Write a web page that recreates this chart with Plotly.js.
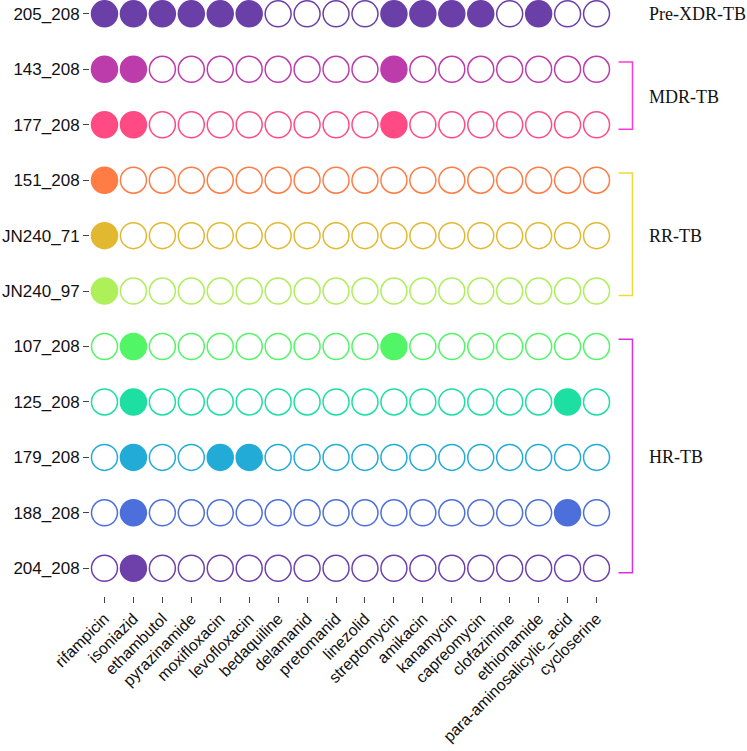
<!DOCTYPE html>
<html>
<head>
<meta charset="utf-8">
<script src="https://cdn.plot.ly/plotly-3.0.1.min.js"></script>
<style>html,body{margin:0;padding:0;background:#fff;}#chart{width:747px;height:751px;}</style>
</head>
<body>
<div id="chart"></div>
<script>
const drugs = ["rifampicin","isoniazid","ethambutol","pyrazinamide","moxifloxacin","levofloxacin","bedaquiline","delamanid","pretomanid","linezolid","streptomycin","amikacin","kanamycin","capreomycin","clofazimine","ethionamide","para-aminosalicylic_acid","cycloserine"];
const strains = ["205_208","143_208","177_208","151_208","JN240_71","JN240_97","107_208","125_208","179_208","188_208","204_208"];
const strainColors = ["#6b3fa8","#bd3cab","#ff4a84","#ff7c45","#e2b831","#aef05a","#52f566","#1ddfa2","#23abd8","#4c6fdc","#6e40aa"];
// 1 = resistant (filled), 0 = susceptible (open)
const r205_208  = [1,1,1,1,1,1,0,0,0,0,1,1,1,1,0,1,0,0];
const r143_208  = [1,1,0,0,0,0,0,0,0,0,1,0,0,0,0,0,0,0];
const r177_208  = [1,1,0,0,0,0,0,0,0,0,1,0,0,0,0,0,0,0];
const r151_208  = [1,0,0,0,0,0,0,0,0,0,0,0,0,0,0,0,0,0];
const rJN240_71 = [1,0,0,0,0,0,0,0,0,0,0,0,0,0,0,0,0,0];
const rJN240_97 = [1,0,0,0,0,0,0,0,0,0,0,0,0,0,0,0,0,0];
const r107_208  = [0,1,0,0,0,0,0,0,0,0,1,0,0,0,0,0,0,0];
const r125_208  = [0,1,0,0,0,0,0,0,0,0,0,0,0,0,0,0,1,0];
const r179_208  = [0,1,0,0,1,1,0,0,0,0,0,0,0,0,0,0,0,0];
const r188_208  = [0,1,0,0,0,0,0,0,0,0,0,0,0,0,0,0,1,0];
const r204_208  = [0,1,0,0,0,0,0,0,0,0,0,0,0,0,0,0,0,0];
const resistance = [r205_208,r143_208,r177_208,r151_208,rJN240_71,rJN240_97,r107_208,r125_208,r179_208,r188_208,r204_208];
const groups = ["Pre-XDR-TB","MDR-TB","RR-TB","HR-TB"];
const groupRows = [[0,0],[1,2],[3,5],[6,10]];
const bracketColors = [null,"#ff3ad8","#f2d83a","#d633e0"];

const traces = strains.map((s,i)=>({
  type:"scatter", mode:"markers",
  x: drugs, y: drugs.map(()=>s),
  marker:{size:26, symbol:"circle",
    color: resistance[i].map(v=> v ? strainColors[i] : "#ffffff"),
    line:{color:strainColors[i], width:1.5}},
  hoverinfo:"skip", showlegend:false
}));

const shapes = [];
const annotations = [];
groups.forEach((g,k)=>{
  const [a,b] = groupRows[k];
  if (bracketColors[k]) {
    const top = a - 0.13, bot = b + 0.08;
    const c = bracketColors[k];
    shapes.push({type:"path", xref:"paper", yref:"y",
      path:`M 1.0144 ${top} L 1.0412 ${top} L 1.0412 ${bot} L 1.0144 ${bot}`,
      line:{color:c,width:1.5}});
  }
  annotations.push({xref:"paper", yref:"y", x:1.07, y:(a+b)/2, text:g, showarrow:false,
    xanchor:"left", yanchor:"middle",
    font:{family:"Liberation Serif, Times New Roman, serif", size:18, color:"#111"}});
});

const layout = {
  width:747, height:751,
  margin:{l:90, r:136, t:0, b:155},
  paper_bgcolor:"#fff", plot_bgcolor:"#fff",
  xaxis:{type:"category", categoryarray:drugs, range:[-0.5,17.5],
    showgrid:false, zeroline:false, showline:false,
    ticks:"outside", ticklen:6, tickcolor:"#444", tickwidth:1,
    tickangle:-45, tickfont:{family:"Liberation Sans, Arial, sans-serif", size:16, color:"#111"}},
  yaxis:{type:"category", categoryarray:strains, range:[10.5,-0.25],
    showgrid:false, zeroline:false, showline:false,
    ticks:"outside", ticklen:6, tickcolor:"#444", tickwidth:1,
    tickfont:{family:"Liberation Sans, Arial, sans-serif", size:17, color:"#111"}},
  shapes: shapes,
  annotations: annotations
};
Plotly.newPlot("chart", traces, layout, {staticPlot:true, displayModeBar:false});
</script>
</body>
</html>
